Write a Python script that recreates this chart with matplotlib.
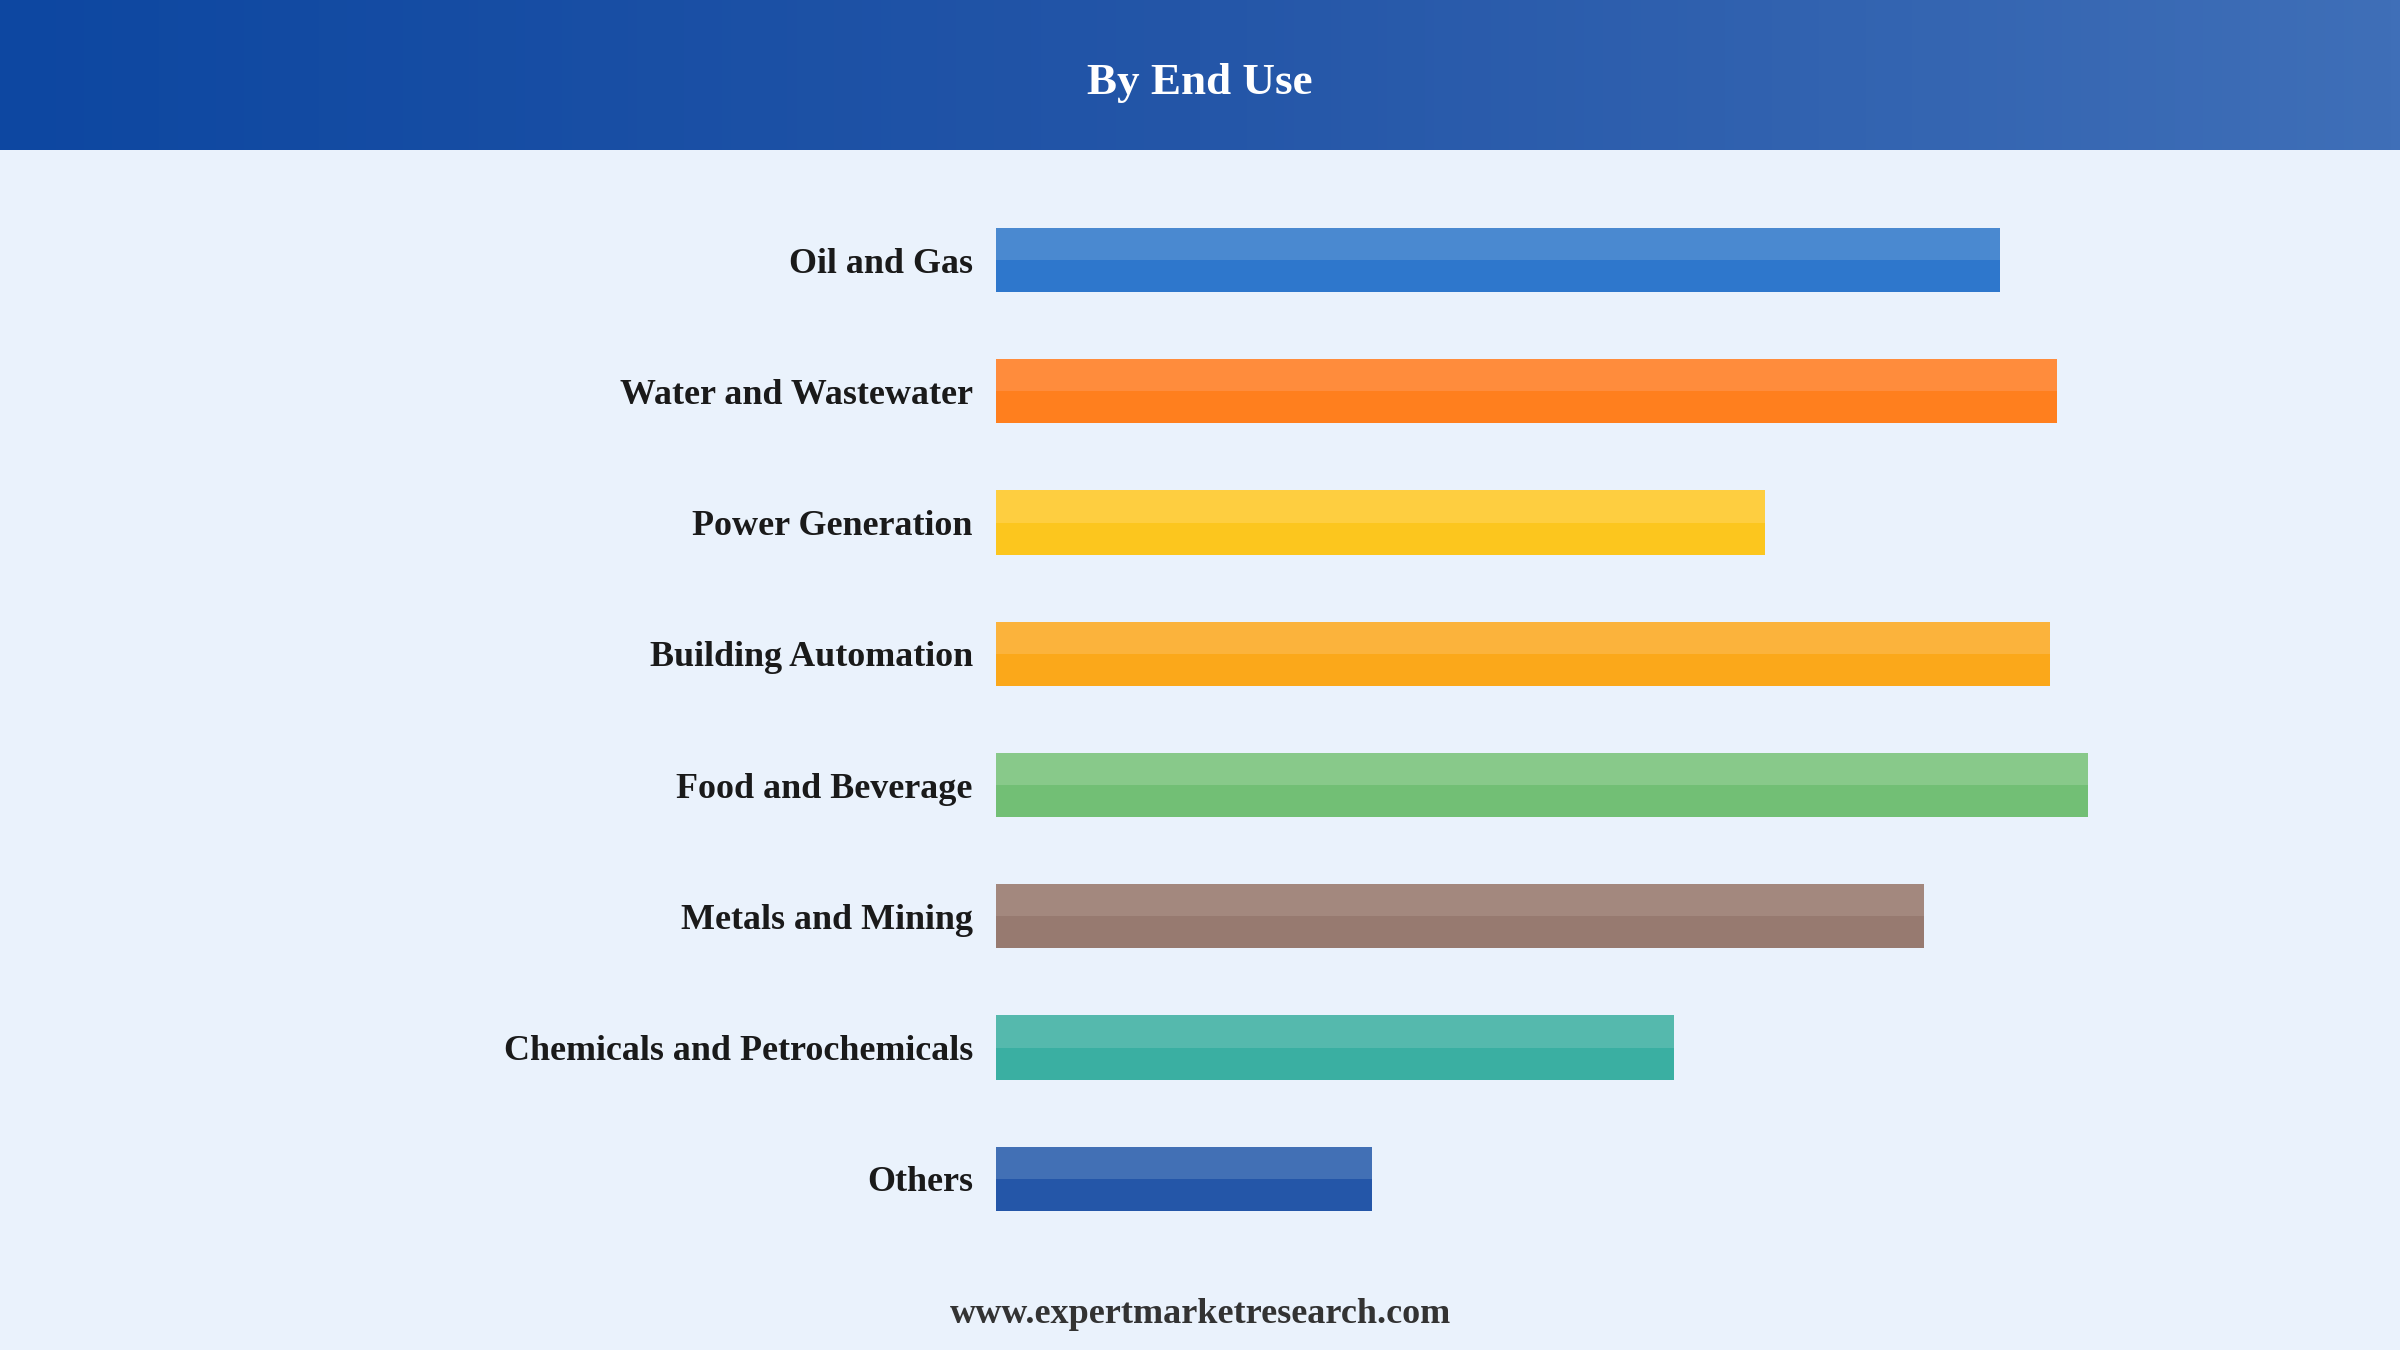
import matplotlib
matplotlib.use("Agg")
import matplotlib.pyplot as plt
import numpy as np
from matplotlib.colors import LinearSegmentedColormap

categories = ["Oil and Gas", "Water and Wastewater", "Power Generation", "Building Automation",
              "Food and Beverage", "Metals and Mining", "Chemicals and Petrochemicals", "Others"]
values = [92.0, 97.2, 70.4, 96.5, 100.0, 85.0, 62.1, 34.4]
dark = ["#2E77CC", "#FF7F1E", "#FCC61E", "#FBA81A", "#72BF75", "#977A70", "#3AAFA2", "#2456A8"]
light = ["#4A89D0", "#FF8C3C", "#FECE40", "#FBB33C", "#88C98A", "#A3887E", "#55B9AD", "#4270B5"]

fig = plt.figure(figsize=(24, 13.5), dpi=100)
fig.patch.set_facecolor("#EAF2FC")

hax = fig.add_axes([0, 1 - 98/882, 1, 98/882])
cmap = LinearSegmentedColormap.from_list("h", ["#0D47A1", "#2456A8", "#3F6FB8"])
hax.imshow(np.linspace(0, 1, 256)[None, :], aspect="auto", cmap=cmap, extent=[0, 1, 0, 1])
hax.axis("off")
fig.text(0.5, 1 - 54/882, "By End Use", ha="center", va="center", color="white",
         fontsize=32.5, fontweight="bold", family="Liberation Serif")

ax = fig.add_axes([651/1568, 1 - 813/882, (1364 - 651)/1568, (813 - 127)/882])
ax.set_facecolor("none")
y = np.arange(len(categories))
h = 0.49
ax.barh(y + h/4, values, height=h/2, color=dark, edgecolor="none")
ax.barh(y - h/4, values, height=h/2, color=light, edgecolor="none")
ax.set_xlim(0, 100)
ax.set_ylim(len(categories) - 0.5, -0.5)
ax.set_yticks(y)
ax.set_yticklabels(categories, fontsize=25.9, fontweight="bold", family="Liberation Serif", color="#1a1a1a")
ax.tick_params(axis="y", length=0, pad=17)
ax.set_xticks([])
for s in ax.spines.values():
    s.set_visible(False)

fig.text(0.5, 1 - 859/882, "www.expertmarketresearch.com", ha="center", va="center",
         fontsize=26, fontweight="bold", family="Liberation Serif", color="#333333")

fig.savefig("out.png", dpi=100, facecolor=fig.get_facecolor())
